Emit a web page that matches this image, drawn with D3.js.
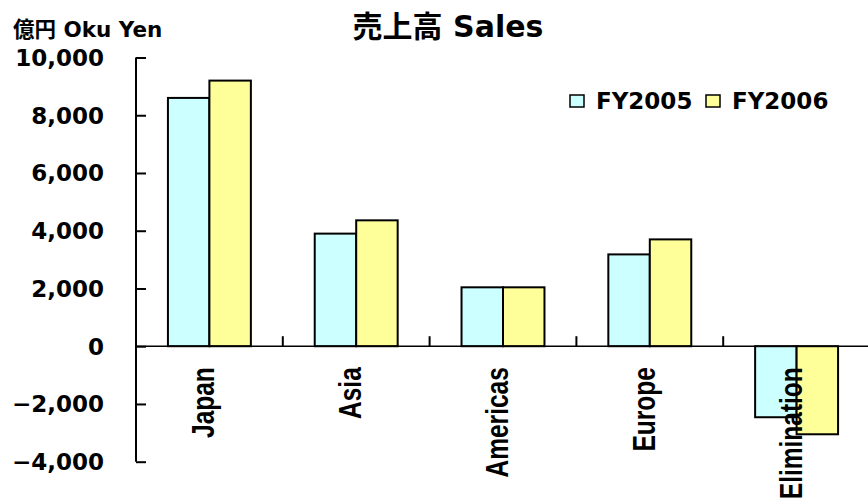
<!DOCTYPE html>
<html>
<head>
<meta charset="utf-8">
<script src="https://cdn.jsdelivr.net/npm/d3@7"></script>
<style>
  body { margin: 0; background: #fff; }
  text { font-family: "DejaVu Sans", "Noto Sans CJK JP", sans-serif; font-weight: bold; }
  text.cat { font-family: "Liberation Sans", Arial, sans-serif; }
</style>
</head>
<body>
<svg width="868" height="501"></svg>
<script>
// data
const categories = ['Japan', 'Asia', 'Americas', 'Europe', 'Elimination'];
const seriesNames = ['FY2005', 'FY2006'];
const fy2005 = [8600, 3900, 2040, 3180, -2460];
const fy2006 = [9200, 4360, 2040, 3700, -3050];
const yTicks = [-4000, -2000, 0, 2000, 4000, 6000, 8000, 10000];
const colors = ['#ccffff', '#ffff99'];

const svg = d3.select('svg');
const plotLeft = 136, plotRight = 870, plotTop = 57.5, plotBottom = 461.7;

const x0 = d3.scaleBand().domain(categories).range([plotLeft, plotRight]).padding(0);
const x1 = d3.scaleBand().domain(seriesNames).range([0, x0.bandwidth()])
  .paddingInner(0).paddingOuter(0.77);
const y = d3.scaleLinear().domain([-4000, 10000]).range([plotBottom, plotTop]);

const rows = categories.map((c, i) => ({ cat: c, vals: [fy2005[i], fy2006[i]] }));

// bars
const g = svg.append('g');
rows.forEach(r => {
  r.vals.forEach((v, j) => {
    g.append('rect')
      .attr('x', x0(r.cat) + x1(seriesNames[j]))
      .attr('y', y(Math.max(0, v)))
      .attr('width', x1.bandwidth())
      .attr('height', Math.abs(y(v) - y(0)))
      .attr('fill', colors[j])
      .attr('stroke', '#000')
      .attr('stroke-width', 2);
  });
});

// y axis
const yAxis = svg.append('g')
  .attr('transform', `translate(${plotLeft},0)`)
  .call(d3.axisRight(y).tickValues(yTicks).tickSize(10).tickFormat(''));
yAxis.select('.domain').attr('d', `M0,${plotTop}V${plotBottom}`).attr('stroke-width', 2);
yAxis.selectAll('.tick line').attr('stroke-width', 2);

svg.selectAll('.ylab').data(yTicks).enter().append('text')
  .attr('x', 104).attr('y', d => y(d) + 8.5)
  .attr('text-anchor', 'end').attr('font-size', 23)
  .text(d => d3.format(',')(d));

// x axis at zero
svg.append('line')
  .attr('x1', plotLeft).attr('x2', 868).attr('y1', y(0)).attr('y2', y(0))
  .attr('stroke', '#000').attr('stroke-width', 1.5);
svg.selectAll('.xtick').data(categories.slice(1)).enter().append('line')
  .attr('x1', d => x0(d)).attr('x2', d => x0(d))
  .attr('y1', y(0)).attr('y2', y(0) - 10)
  .attr('stroke', '#000').attr('stroke-width', 2);

// category labels (narrow, reading upward)
svg.selectAll('.cat').data(categories).enter().append('text')
  .attr('class', 'cat')
  .attr('transform', d => `translate(${x0(d) + x0.bandwidth() / 2 + 5},${y(0) + 21}) rotate(-90) scale(0.79,1)`)
  .attr('text-anchor', 'end').attr('font-size', 31)
  .text(d => d);

// titles
svg.append('text').attr('x', 448).attr('y', 37).attr('text-anchor', 'middle')
  .attr('font-size', 30).text('売上高 Sales');
svg.append('text').attr('x', 13).attr('y', 37).attr('font-size', 21.5).text('億円 Oku Yen');

// legend
const legX = [570, 706];
seriesNames.forEach((s, j) => {
  svg.append('rect').attr('x', legX[j]).attr('y', 95).attr('width', 14).attr('height', 12)
    .attr('fill', colors[j]).attr('stroke', '#000').attr('stroke-width', 1.5);
  svg.append('text').attr('x', legX[j] + 26).attr('y', 109).attr('font-size', 23).text(s);
});
</script>
</body>
</html>
